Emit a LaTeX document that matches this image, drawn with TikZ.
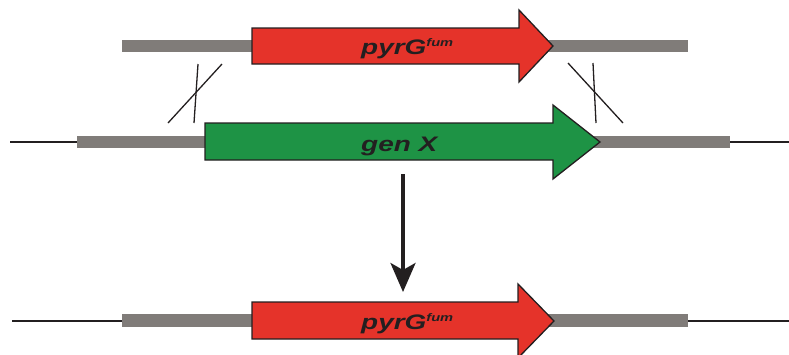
\documentclass[tikz,border=0pt]{standalone}
\usepackage{fontspec}
\setmainfont{Liberation Sans}
\usetikzlibrary{arrows.meta}
\definecolor{genered}{HTML}{E5332A}
\definecolor{genegreen}{HTML}{1E9345}
\definecolor{flankgrey}{HTML}{807C79}
\definecolor{ink}{HTML}{231F20}
\tikzset{
  flank/.style={fill=flankgrey, draw=none},
  chrom/.style={draw=ink, line width=1.2pt},
  genebox/.style={draw=ink, line width=1.3pt, line join=miter},
  cross/.style={draw=ink, line width=1.3pt},
  lab/.style={inner sep=0pt, anchor=base west, text=ink, font=\fontsize{21}{21}\selectfont\bfseries\itshape},
  bigarrow/.style={draw=ink, line width=3.5pt, -{Stealth[length=29pt,width=25pt,inset=7pt]}}
}
\newcommand{\genelabel}[1]{\scalebox{1.33}[1]{#1}}
\newcommand{\pyrgtext}{\genelabel{pyrG\raisebox{8pt}{\fontsize{11}{11}\selectfont fum}}}
\begin{document}
\begin{tikzpicture}[x=1pt,y=-1pt]
\useasboundingbox (0,0) rectangle (789,354);
% ---- top row (donor fragment) ----
\fill[flank] (122,40) rectangle (688,52);
\path[genebox, fill=genered] (252,28) -- (519,28) -- (519,10) -- (553,46) -- (519,82) -- (519,64) -- (252,64) -- cycle;
\node[lab] (t1) at (361,54) {\pyrgtext};
% ---- crossovers ----
\coordinate (c1a) at (168,123); \coordinate (c1b) at (222,64);
\coordinate (c2a) at (198,64);  \coordinate (c2b) at (194,123);
\draw[cross] (c1a) -- (c1b);
\draw[cross] (c2a) -- (c2b);
\coordinate (c3a) at (568,63); \coordinate (c3b) at (623,123);
\coordinate (c4a) at (593,63); \coordinate (c4b) at (596,123);
\draw[cross] (c3a) -- (c3b);
\draw[cross] (c4a) -- (c4b);
% ---- middle row (genome) ----
\coordinate (m0) at (10,142); \coordinate (m1) at (78,142);
\coordinate (m2) at (729,142); \coordinate (m3) at (789,142);
\draw[chrom] (m0) -- (m1);
\draw[chrom] (m2) -- (m3);
\fill[flank] (77,136) rectangle (730,148);
\path[genebox, fill=genegreen] (205,123) -- (553,123) -- (553,105) -- (600,142) -- (553,179) -- (553,160) -- (205,160) -- cycle;
\node[lab] (t2) at (361,151) {\genelabel{gen X}};
% ---- result arrow ----
\coordinate (d0) at (403,174); \coordinate (d1) at (403,292);
\draw[bigarrow] (d0) -- (d1);
% ---- bottom row (result) ----
\coordinate (b0) at (12,321); \coordinate (b1) at (123,321);
\coordinate (b2) at (687,321); \coordinate (b3) at (789,321);
\draw[chrom] (b0) -- (b1);
\draw[chrom] (b2) -- (b3);
\fill[flank] (122,314) rectangle (688,327);
\path[genebox, fill=genered] (252,302) -- (518,302) -- (518,284) -- (554,321) -- (518,358) -- (518,339) -- (252,339) -- cycle;
\node[lab] (t3) at (361,329) {\pyrgtext};
\end{tikzpicture}
\end{document}
